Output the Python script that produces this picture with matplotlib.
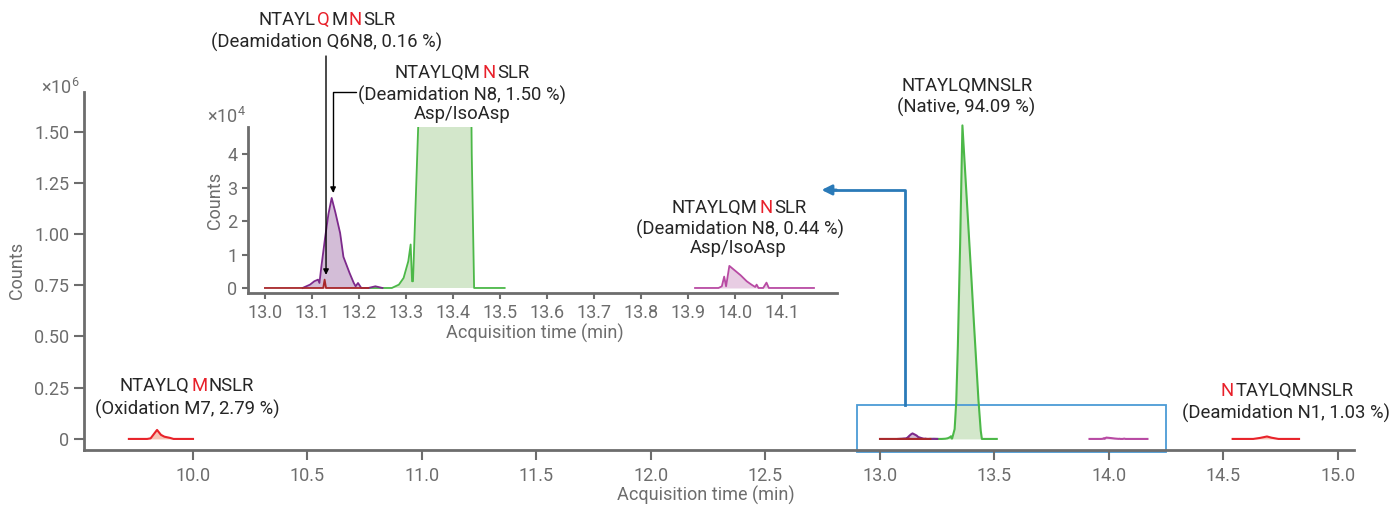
import matplotlib
matplotlib.use('Agg')
import matplotlib.pyplot as plt
from matplotlib.offsetbox import TextArea, HPacker, AnnotationBbox
from matplotlib.patches import Rectangle

plt.rcParams['font.family'] = ['Roboto', 'DejaVu Sans']
plt.rcParams['mathtext.default'] = 'regular'

# retention time (min) and counts
ox_t = [9.72, 9.80, 9.815, 9.83, 9.843, 9.86, 9.875, 9.90, 9.915, 10.0]
ox_y = [0, 0, 3000, 25000, 44000, 20000, 11000, 5000, 0, 0]

n1_t = [14.54, 14.63, 14.66, 14.69, 14.71, 14.74, 14.83]
n1_y = [0, 0, 5000, 12000, 6000, 0, 0]

q6_t = [13.0, 13.12, 13.124, 13.127, 13.130, 13.22]
q6_y = [0, 0, 0, 2500, 0, 0]

n8a_t = [13.08, 13.096, 13.105, 13.113, 13.116, 13.12, 13.128, 13.135, 13.142, 13.15, 13.16,
         13.167, 13.18, 13.189, 13.193, 13.198, 13.205, 13.22, 13.235, 13.25]
n8a_y = [0, 1000, 2000, 2500, 1500, 6300, 15000, 22000, 26900, 22500, 16400,
         9300, 4500, 1500, 500, 1500, 0, 0, 500, 0]

nat_t = [13.22, 13.27, 13.285, 13.295, 13.305, 13.31, 13.313, 13.315, 13.326, 13.333, 13.34, 13.35,
         13.36, 13.37, 13.38, 13.39, 13.40, 13.41, 13.42, 13.43, 13.44, 13.445, 13.46, 13.51]
nat_y = [0, 0, 1000, 3000, 8000, 13000, 2000, 2000, 48000, 180000, 450000, 950000,
         1530000, 1340000, 1150000, 960000, 770000, 570000, 380000, 190000, 40000, 0, 0, 0]

n8b_t = [13.915, 13.965, 13.972, 13.977, 13.981, 13.988, 14.0, 14.012, 14.025, 14.035,
         14.043, 14.046, 14.05, 14.06, 14.067, 14.072, 14.168]
n8b_y = [0, 0, 500, 3400, 500, 6600, 5200, 3800, 2000, 1000,
         300, 1000, 0, 0, 1600, 0, 0]

main_xticks = [10.0, 10.5, 11.0, 11.5, 12.0, 12.5, 13.0, 13.5, 14.0, 14.5, 15.0]
main_yticks = [0, 0.25, 0.5, 0.75, 1.0, 1.25, 1.5]
inset_xticks = [13.0, 13.1, 13.2, 13.3, 13.4, 13.5, 13.6, 13.7, 13.8, 13.9, 14.0, 14.1]
inset_yticks = [0, 1, 2, 3, 4]

RED = '#e8202a'
INK = '#262626'
GRAY = '#6d6d6d'
FS = 13.3

traces = [
    (ox_t, ox_y, '#e8232a', '#f7c3b5'),
    (n1_t, n1_y, '#e8232a', '#f7c3b5'),
    (nat_t, nat_y, '#4cb848', '#d3e7cb'),
    (n8b_t, n8b_y, '#b84aa3', '#e8cde3'),
    (n8a_t, n8a_y, '#7d2a8c', '#d3bdd7'),
    (q6_t, q6_y, '#a8282b', '#e8b0b0'),
]

W, H = 1391, 508
fig = plt.figure(figsize=(W / 100, H / 100), dpi=100)


def fx(x, y):
    return x / W, 1 - y / H


def style(a, size, pad):
    for s in ['top', 'right']:
        a.spines[s].set_visible(False)
    for s in ['left', 'bottom']:
        a.spines[s].set_color(GRAY)
        a.spines[s].set_linewidth(2)
    a.tick_params(colors=GRAY, labelsize=13, length=size, width=1.5)
    a.tick_params(axis='x', pad=pad)


ax = fig.add_axes([84 / W, 1 - 450 / H, (1354 - 84) / W, (450 - 92) / H])
for t, y, lc, fc in traces:
    yy = [v / 1e6 for v in y]
    ax.fill_between(t, yy, 0, color=fc, lw=0)
    ax.plot(t, yy, color=lc, lw=1.5)
ax.set_xlim(9.524, 15.07)
ax.set_ylim(-0.054, 1.693)
ax.set_xticks(main_xticks)
ax.set_xticklabels(['%.1f' % v for v in main_xticks])
ax.set_yticks(main_yticks)
ax.set_yticklabels(['0'] + ['%.2f' % v for v in main_yticks[1:]])
style(ax, 7, 5.5)
ax.patch.set_alpha(0)

# zoom box and connector
ax.add_patch(Rectangle((12.90, -0.064), 1.35, 0.23, fill=False, ec='#4b9bd5', lw=1.3, clip_on=False))
ax.plot([13.11, 13.11, 12.80], [0.166, 1.215, 1.215], color='#2a7ab8', lw=2, clip_on=False)
ax.annotate('', xy=(12.745, 1.215), xytext=(12.81, 1.215),
            arrowprops=dict(arrowstyle='-|>', color='#2a7ab8', lw=2, mutation_scale=15, shrinkA=0, shrinkB=0))

axin = fig.add_axes([248 / W, 1 - 293 / H, (837 - 248) / W, (293 - 127) / H])
for t, y, lc, fc in traces[2:]:
    yy = [v / 1e4 for v in y]
    axin.fill_between(t, yy, 0, color=fc, lw=0)
    axin.plot(t, yy, color=lc, lw=1.3)
axin.set_xlim(12.964, 14.217)
axin.set_ylim(-0.15, 4.81)
axin.set_xticks(inset_xticks)
axin.set_xticklabels(['%.1f' % v for v in inset_xticks])
axin.set_yticks(inset_yticks)
style(axin, 4, 4)
axin.patch.set_alpha(0)

# axis labels and multipliers
fig.text(*fx(706, 495), 'Acquisition time (min)', ha='center', va='center', color=GRAY, fontsize=13)
fig.text(*fx(17, 270), 'Counts', ha='center', va='center', color=GRAY, fontsize=13, rotation=90)
fig.text(*fx(60, 88), '×10$^6$', ha='center', va='center', color=GRAY, fontsize=13)
fig.text(*fx(535, 333), 'Acquisition time (min)', ha='center', va='center', color=GRAY, fontsize=13)
fig.text(*fx(215, 200), 'Counts', ha='center', va='center', color=GRAY, fontsize=13, rotation=90)
fig.text(*fx(226, 117), '×10$^4$', ha='center', va='center', color=GRAY, fontsize=13)


def colored(parts, x, y):
    boxes = [TextArea(s, textprops=dict(color=RED if hot else INK, fontsize=FS)) for s, hot in parts]
    pack = HPacker(children=boxes, align='baseline', pad=0, sep=1)
    ab = AnnotationBbox(pack, (x, H - y), xycoords='figure pixels', frameon=False,
                        box_alignment=(0.5, 0.5), pad=0)
    fig.add_artist(ab)


def plain(s, x, y):
    fig.text(*fx(x, y), s, ha='center', va='center', color=INK, fontsize=FS)


colored([('NTAYL', 0), ('Q', 1), ('M', 0), ('N', 1), ('SLR', 0)], 327, 20)
plain('(Deamidation Q6N8, 0.16 %)', 327, 42)
colored([('NTAYLQM', 0), ('N', 1), ('SLR', 0)], 462, 73)
plain('(Deamidation N8, 1.50 %)', 462, 95)
plain('Asp/IsoAsp', 462, 114)
plain('NTAYLQMNSLR', 967, 86)
plain('(Native, 94.09 %)', 966, 107)
colored([('NTAYLQM', 0), ('N', 1), ('SLR', 0)], 739, 208)
plain('(Deamidation N8, 0.44 %)', 740, 229)
plain('Asp/IsoAsp', 738, 248)
colored([('NTAYLQ', 0), ('M', 1), ('NSLR', 0)], 187, 386)
plain('(Oxidation M7, 2.79 %)', 187, 409)
colored([('N', 1), ('TAYLQMNSLR', 0)], 1287, 391)
plain('(Deamidation N1, 1.03 %)', 1286, 413)

# pointer arrows into the inset
axin.annotate('', xy=(13.13, 0.39), xytext=(326, H - 56), textcoords='figure pixels',
              arrowprops=dict(arrowstyle='-|>', color='black', lw=1, mutation_scale=8, shrinkA=0, shrinkB=0),
              annotation_clip=False)
axin.annotate('', xy=(13.145, 2.84), xytext=(356, H - 92), textcoords='figure pixels',
              arrowprops=dict(arrowstyle='-|>', color='black', lw=1, mutation_scale=8, shrinkA=0, shrinkB=0,
                              connectionstyle='angle,angleA=0,angleB=90,rad=0'),
              annotation_clip=False)

fig.savefig('out.png', dpi=100)
